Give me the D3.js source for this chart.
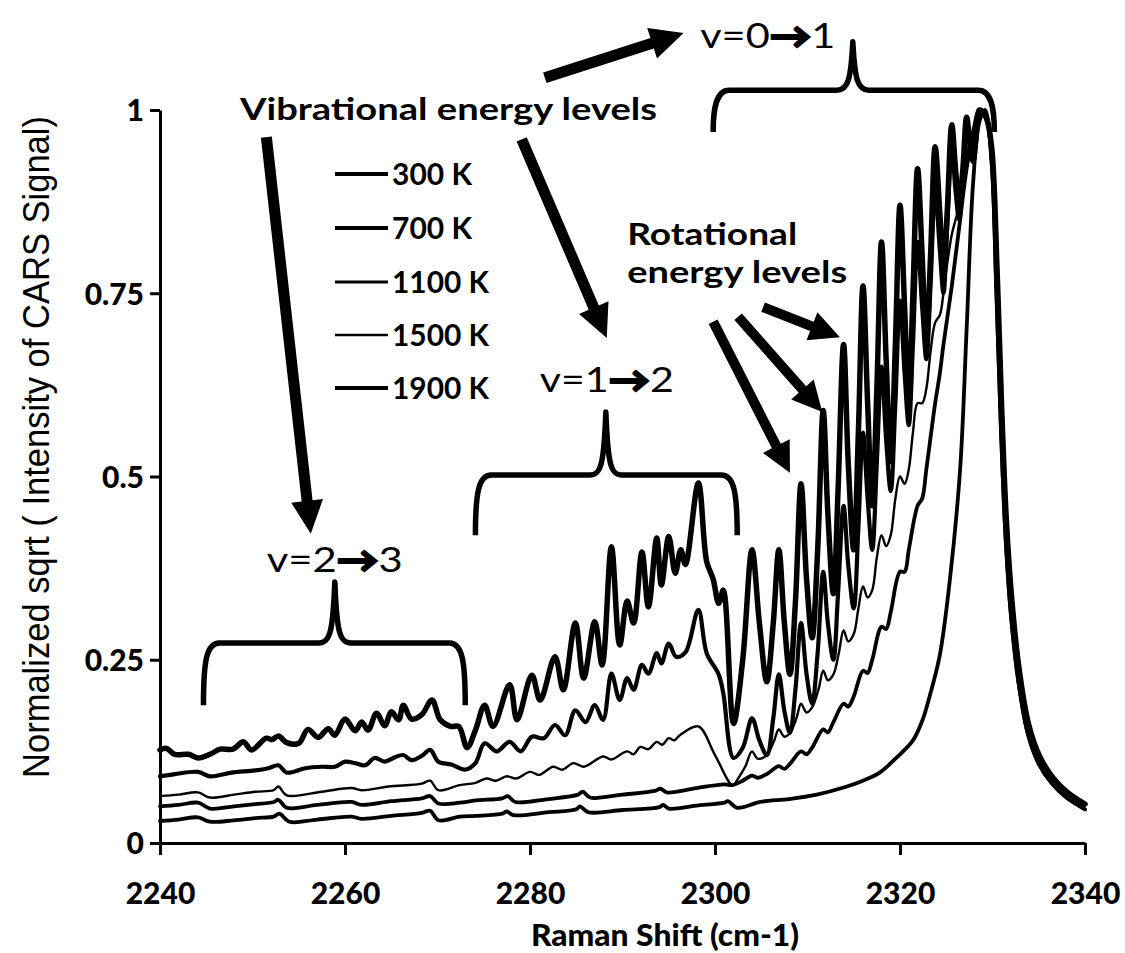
<!DOCTYPE html>
<html>
<head>
<meta charset="utf-8">
<script src="https://cdn.jsdelivr.net/npm/d3@7"></script>
<style>
html,body{margin:0;padding:0;background:#fff;}
svg{display:block;}
</style>
</head>
<body>
<svg id="chart" width="1125" height="953"></svg>
<script>
// ---------------- DATA ----------------
const seriesNames = ["300 K", "700 K", "1100 K", "1500 K", "1900 K"];
const xTicks = [2240, 2260, 2280, 2300, 2320, 2340];
const yTicks = [0, 0.25, 0.5, 0.75, 1];
const yTickLabels = ["0", "0.25", "0.5", "0.75", "1"];

const s300 = [
[2240.0,0.030],[2242,0.032],[2244.1,0.035],[2245.4,0.029],[2248,0.031],[2250.3,0.034],[2252.3,0.036],[2252.9,0.040],[2254.0,0.029],
[2257,0.032],[2260.7,0.036],[2261.8,0.033],[2265,0.037],[2268.3,0.041],[2269.2,0.044],[2270.1,0.031],[2272.4,0.036],[2274.1,0.037],
[2277.0,0.040],[2277.5,0.043],[2278.2,0.038],[2282,0.042],[2285.0,0.046],[2285.4,0.050],[2286.3,0.042],[2290,0.045],[2294,0.049],
[2294.4,0.052],[2295,0.047],[2298,0.051],[2301.0,0.055],[2301.4,0.057],[2302.4,0.048],[2304.9,0.056],[2308,0.060],[2311,0.066],
[2314,0.076],[2316,0.085],[2317.8,0.096],[2319.5,0.115],[2321.4,0.14],[2322.5,0.17],[2323.2,0.20],[2324.3,0.256],[2325.4,0.36],
[2326.5,0.51],[2327.2,0.70],[2327.9,0.90],[2328.6,0.985],[2329.2,1.0],
[2329.9,0.93],[2330.4,0.76],[2330.9,0.57],[2331.4,0.42],[2332.0,0.31],[2332.8,0.22],[2333.8,0.15],[2335.0,0.108],[2336.5,0.08],[2338.0,0.062],[2340,0.046]
];

const s700 = [
[2240.0,0.050],[2242,0.052],[2244.1,0.055],[2245.4,0.047],[2248,0.050],[2250.3,0.053],[2252.3,0.056],[2252.8,0.059],[2253.7,0.048],
[2257,0.052],[2260.7,0.056],[2261.8,0.052],[2265,0.057],[2268.3,0.061],[2269.2,0.064],[2270.1,0.054],[2272.4,0.055],[2274.1,0.058],
[2277.0,0.061],[2277.6,0.064],[2278.4,0.056],[2282,0.060],[2285.2,0.066],[2285.7,0.070],[2286.5,0.062],[2290,0.066],[2293.5,0.071],
[2294.1,0.074],[2294.8,0.069],[2298,0.075],[2301.0,0.080],[2301.9,0.079],
[2303.0,0.085],[2304.0,0.092],[2304.6,0.089],[2305.6,0.094],[2306.9,0.105],[2307.5,0.101],[2308.1,0.108],[2309.3,0.125],[2309.9,0.121],
[2310.5,0.13],[2311.7,0.155],[2312.2,0.151],[2312.8,0.165],[2313.9,0.19],[2314.4,0.186],[2315.0,0.20],[2316.0,0.235],[2316.5,0.232],
[2317.0,0.25],[2318.0,0.295],[2318.5,0.292],[2319.0,0.315],[2320.0,0.37],[2320.5,0.37],[2320.95,0.40],[2321.9,0.46],[2322.4,0.47],
[2322.85,0.51],[2323.8,0.60],[2324.3,0.64],[2324.7,0.68],[2325.6,0.76],[2326.0,0.80],[2326.4,0.84],[2327.2,0.92],[2327.9,0.97],
[2328.6,1.0],[2329.3,0.99],
[2329.9,0.93],[2330.4,0.76],[2330.9,0.57],[2331.4,0.42],[2332.0,0.31],[2332.8,0.22],[2333.8,0.15],[2335.0,0.108],[2336.5,0.08],[2338.0,0.062],[2340,0.046]
];

const s1100 = [
[2240.0,0.064],[2242,0.066],[2244.1,0.069],[2245.4,0.062],[2248,0.066],[2250.3,0.070],[2252.3,0.072],[2252.8,0.077],[2253.7,0.065],
[2257.5,0.070],[2260.7,0.075],[2261.8,0.072],[2264.7,0.077],[2268.3,0.081],[2269.2,0.085],[2270.1,0.072],[2272.4,0.079],[2274.1,0.082],
[2275.3,0.088],[2276.3,0.085],[2277.5,0.091],[2278.5,0.088],[2280,0.097],[2281,0.093],[2282.5,0.104],[2283.5,0.100],[2284.7,0.109],
[2285.8,0.104],[2287.9,0.118],[2288.8,0.114],[2290.5,0.125],[2291.2,0.121],[2291.9,0.131],[2292.8,0.128],[2293.7,0.138],[2294.3,0.134],
[2295.0,0.143],[2295.6,0.140],[2296.2,0.147],[2298.2,0.159],[2300,0.12],[2301.9,0.079],
[2302.6,0.09],[2303.3,0.105],[2304.0,0.125],[2304.6,0.115],[2305.6,0.12],[2306.4,0.14],[2306.9,0.155],[2307.5,0.145],[2308.1,0.15],
[2308.8,0.17],[2309.3,0.19],[2309.9,0.178],[2310.5,0.185],[2311.2,0.21],[2311.7,0.235],[2312.2,0.222],[2312.8,0.23],[2313.4,0.26],
[2313.9,0.29],[2314.4,0.275],[2315.0,0.285],[2315.5,0.32],[2316.0,0.35],[2316.5,0.335],[2317.0,0.345],[2317.5,0.39],[2318.0,0.42],
[2318.5,0.405],[2319.0,0.42],[2319.5,0.47],[2320.0,0.50],[2320.5,0.49],[2320.95,0.51],[2321.4,0.56],[2321.9,0.60],[2322.4,0.60],
[2322.85,0.62],[2323.3,0.67],[2323.8,0.71],[2324.3,0.72],[2324.7,0.75],[2325.1,0.79],[2325.6,0.83],[2326.0,0.85],[2326.4,0.87],
[2326.8,0.91],[2327.2,0.94],[2327.9,0.97],[2328.6,1.0],[2329.3,0.99],
[2329.9,0.93],[2330.4,0.76],[2330.9,0.57],[2331.4,0.42],[2332.0,0.31],[2332.8,0.22],[2333.8,0.15],[2335.0,0.108],[2336.5,0.08],[2338.0,0.062],[2340,0.046]
];

const s1500 = [
[2240.0,0.091],[2241.6,0.094],[2244.1,0.097],[2245.4,0.091],[2247.7,0.096],[2250.3,0.099],[2251.7,0.102],[2252.8,0.106],[2253.7,0.096],
[2255.7,0.102],[2257.5,0.104],[2258.9,0.104],[2260.0,0.111],[2261.1,0.109],[2262.2,0.106],[2263.2,0.116],[2264.3,0.111],[2265.4,0.117],
[2266.3,0.120],[2267.2,0.113],[2268.3,0.119],[2269.2,0.127],[2270.1,0.111],[2271.5,0.107],[2273.0,0.100],[2274.1,0.109],
[2275.1,0.136],[2276.4,0.125],[2277.8,0.138],[2279.0,0.125],[2280.2,0.145],[2281.5,0.143],[2282.7,0.161],[2283.8,0.147],[2284.9,0.181],
[2286.0,0.165],[2287.0,0.188],[2287.9,0.168],[2288.8,0.231],[2289.7,0.195],[2290.5,0.225],[2291.2,0.209],[2292.1,0.243],[2292.8,0.231],
[2293.7,0.259],[2294.2,0.245],[2295.0,0.272],[2295.8,0.254],[2296.8,0.26],[2298.2,0.318],[2299.1,0.259],[2300.4,0.23],[2300.9,0.204],
[2302.0,0.116],
[2303.0,0.13],[2304.0,0.17],[2304.8,0.14],[2305.6,0.12],[2306.3,0.17],[2306.9,0.23],[2307.5,0.18],[2308.1,0.15],[2308.7,0.21],
[2309.3,0.30],[2309.9,0.23],[2310.5,0.19],[2311.1,0.26],[2311.7,0.37],[2312.2,0.30],[2312.8,0.25],[2313.3,0.34],[2313.9,0.46],
[2314.4,0.38],[2315.0,0.32],[2315.5,0.43],[2316.0,0.56],[2316.5,0.47],[2317.0,0.40],[2317.5,0.52],[2318.0,0.65],[2318.5,0.55],
[2319.0,0.48],[2319.5,0.60],[2320.0,0.74],[2320.5,0.64],[2320.95,0.57],[2321.4,0.68],[2321.9,0.82],[2322.4,0.73],[2322.85,0.66],
[2323.3,0.76],[2323.8,0.89],[2324.3,0.81],[2324.7,0.75],[2325.1,0.84],[2325.6,0.95],[2326.0,0.89],[2326.4,0.85],[2326.8,0.91],
[2327.2,0.98],[2327.6,0.95],[2327.9,0.93],[2328.2,0.96],[2328.6,1.0],[2329.3,0.99],
[2329.9,0.95],[2330.5,0.78],[2331.0,0.59],[2331.5,0.44],[2332.1,0.33],[2332.9,0.235],[2333.9,0.162],[2335.1,0.118],[2336.6,0.088],[2338.1,0.069],[2340,0.053]
];

const s1900 = [
[2240.0,0.127],[2240.7,0.129],[2241.6,0.121],[2243.1,0.121],[2244.1,0.116],[2245.4,0.121],[2246.5,0.128],[2247.9,0.128],[2249.0,0.138],
[2249.9,0.127],[2251.5,0.143],[2252.1,0.141],[2252.8,0.146],[2253.7,0.137],[2255.0,0.136],[2256.0,0.155],[2257.1,0.144],[2258.2,0.156],
[2258.9,0.147],[2260.0,0.169],[2261.1,0.153],[2261.8,0.165],[2262.5,0.154],[2263.4,0.177],[2264.3,0.160],[2265.0,0.179],[2265.8,0.168],
[2266.3,0.188],[2267.2,0.169],[2268.3,0.175],[2269.4,0.195],[2270.3,0.168],[2271.4,0.159],[2272.3,0.159],[2273.2,0.130],[2274.1,0.154],
[2275.1,0.188],[2276.0,0.159],[2277.8,0.216],[2278.6,0.168],[2280.2,0.229],[2281.1,0.195],[2282.7,0.254],[2283.6,0.209],[2284.9,0.300],
[2285.8,0.225],[2287.0,0.302],[2287.8,0.243],[2288.8,0.404],[2289.7,0.27],[2290.5,0.33],[2291.2,0.30],[2292.1,0.397],[2292.8,0.322],
[2293.7,0.416],[2294.2,0.352],[2295.0,0.418],[2295.7,0.368],[2296.3,0.40],[2296.8,0.38],[2298.2,0.491],[2299.1,0.384],[2299.8,0.36],
[2300.4,0.327],[2300.9,0.345],[2302.0,0.163],
[2303.0,0.25],[2304.0,0.40],[2304.8,0.30],[2305.6,0.22],[2306.3,0.30],[2306.9,0.40],[2307.5,0.30],[2308.1,0.23],[2308.7,0.33],
[2309.3,0.49],[2309.9,0.36],[2310.5,0.28],[2311.1,0.40],[2311.7,0.59],[2312.2,0.45],[2312.8,0.34],[2313.3,0.48],[2313.9,0.68],
[2314.4,0.52],[2315.0,0.40],[2315.5,0.56],[2316.0,0.76],[2316.5,0.60],[2317.0,0.46],[2317.5,0.62],[2318.0,0.82],[2318.5,0.66],
[2319.0,0.52],[2319.5,0.68],[2320.0,0.87],[2320.5,0.73],[2320.95,0.60],[2321.4,0.75],[2321.9,0.92],[2322.4,0.80],[2322.85,0.68],
[2323.3,0.80],[2323.8,0.95],[2324.3,0.86],[2324.7,0.78],[2325.1,0.86],[2325.6,0.98],[2326.0,0.92],[2326.4,0.87],[2326.8,0.92],
[2327.2,0.99],[2327.6,0.95],[2327.9,0.93],[2328.2,0.96],[2328.6,1.0],[2329.3,0.99],
[2329.9,0.95],[2330.5,0.78],[2331.0,0.59],[2331.5,0.44],[2332.1,0.33],[2332.9,0.235],[2333.9,0.162],[2335.1,0.118],[2336.6,0.088],[2338.1,0.069],[2340,0.053]
];

const seriesData = [s300, s700, s1100, s1500, s1900];

// ---------------- ANNOTATIONS (data units) ----------------
const bracketsAnno = [
  {x0: 2299.8, x1: 2330.2, xm: 2314.9, yTop: 1.027, yBot: 0.970, yTip: 1.093},
  {x0: 2274.1, x1: 2302.4, xm: 2288.2, yTop: 0.502, yBot: 0.420, yTip: 0.588},
  {x0: 2244.7, x1: 2273.0, xm: 2258.9, yTop: 0.273, yBot: 0.188, yTip: 0.356}
];
const arrowsAnno = [
  {from: [2281.6, 1.044], to: [2296.6, 1.105], big: true},
  {from: [2251.5, 0.963], to: [2256.3, 0.422], big: true},
  {from: [2279.1, 0.960], to: [2288.3, 0.689], big: true},
  {from: [2299.8, 0.711], to: [2308.1, 0.505], big: false},
  {from: [2302.5, 0.718], to: [2311.6, 0.588], big: false},
  {from: [2305.2, 0.731], to: [2313.5, 0.690], big: false}
];
const transLabels = [
  {pre: "v=0", post: "1", x: 2305.7, y: 1.085, len: 135},
  {pre: "v=1", post: "2", x: 2288.3, y: 0.615, len: 134},
  {pre: "v=2", post: "3", x: 2258.9, y: 0.370, len: 136}
];
const boldLabels = [
  {text: "Vibrational energy levels", x: 2248.65, y: 0.986, len: 417},
  {text: "Rotational", x: 2290.5, y: 0.816, len: 170},
  {text: "energy levels", x: 2290.5, y: 0.764, len: 220}
];

// ---------------- DRAW ----------------
const svg = d3.select("#chart");
const W = 1125, H = 953;
svg.append("rect").attr("width", W).attr("height", H).attr("fill", "#fff");

const x = d3.scaleLinear().domain([2240, 2340]).range([160, 1085]);
const y = d3.scaleLinear().domain([0, 1]).range([843, 110]);

const lineWidths = [3.8, 3.8, 2.4, 4.2, 5.5];
const legendWidths = [4, 4, 2.8, 2.6, 4];
const fontBold = "Lato, 'Open Sans', sans-serif";

// curves
const line = d3.line().x(d => x(d[0])).y(d => y(d[1])).curve(d3.curveCatmullRom.alpha(0.5));
svg.append("g").selectAll("path").data(seriesData).join("path")
  .attr("d", d => line(d))
  .attr("fill", "none")
  .attr("stroke", "#000")
  .attr("stroke-width", (d, i) => lineWidths[i])
  .attr("stroke-linejoin", "round")
  .attr("stroke-linecap", "round");

// axes
const xAxis = svg.append("g").attr("transform", "translate(0,843)")
  .call(d3.axisBottom(x).tickValues(xTicks).tickSize(12).tickSizeOuter(0).tickFormat(d3.format("d")));
const yAxis = svg.append("g").attr("transform", "translate(160,0)")
  .call(d3.axisLeft(y).tickValues(yTicks).tickSize(10).tickSizeOuter(0).tickFormat((d, i) => yTickLabels[i]));
[xAxis, yAxis].forEach(g => {
  g.select(".domain").attr("stroke", "#000").attr("stroke-width", 3);
  g.selectAll(".tick line").attr("stroke", "#000").attr("stroke-width", 3);
  g.selectAll(".tick text").attr("fill", "#000")
    .style("font-family", fontBold).style("font-weight", "900").style("font-size", "30px");
});
xAxis.selectAll(".tick text").attr("y", 40).attr("dy", "0.71em");
yAxis.selectAll(".tick text").attr("x", -16).attr("dy", "0.36em");

// axis titles
svg.append("text").attr("x", 665).attr("y", 946).attr("text-anchor", "middle")
  .style("font-family", fontBold).style("font-weight", "900").style("font-size", "30px")
  .attr("textLength", 268).attr("lengthAdjust", "spacingAndGlyphs")
  .text("Raman Shift (cm-1)");
svg.append("text").attr("transform", "translate(49,447) rotate(-90)").attr("text-anchor", "middle")
  .style("font-family", "'Liberation Sans Narrow', 'Liberation Sans', Arial, sans-serif").style("font-size", "36px")
  .attr("textLength", 662).attr("lengthAdjust", "spacingAndGlyphs")
  .text("Normalized sqrt ( Intensity of CARS Signal)");

// legend
const legendRows = [174, 228, 282, 335, 388];
const lg = svg.append("g");
seriesNames.forEach((name, i) => {
  lg.append("line").attr("x1", 335).attr("x2", 388).attr("y1", legendRows[i]).attr("y2", legendRows[i])
    .attr("stroke", "#000").attr("stroke-width", legendWidths[i]);
  lg.append("text").attr("x", 392).attr("y", legendRows[i] + 11)
    .style("font-family", fontBold).style("font-weight", "bold").style("font-size", "30px")
    .attr("textLength", name.length > 5 ? 97 : 80).attr("lengthAdjust", "spacingAndGlyphs")
    .text(name);
});

// brackets
const ag = svg.append("g");
bracketsAnno.forEach(b => {
  const X0 = x(b.x0), X1 = x(b.x1), XM = x(b.xm), YT = y(b.yTop), YB = y(b.yBot), YP = y(b.yTip);
  const p = d3.path();
  p.moveTo(X0, YB);
  p.bezierCurveTo(X0, YT + 18, X0 + 3, YT, X0 + 16, YT);
  p.lineTo(XM - 16, YT);
  p.bezierCurveTo(XM - 5, YT, XM - 2, YT - 10, XM, YP);
  p.bezierCurveTo(XM + 2, YT - 10, XM + 5, YT, XM + 16, YT);
  p.lineTo(X1 - 16, YT);
  p.bezierCurveTo(X1 - 3, YT, X1, YT + 18, X1, YB);
  ag.append("path").attr("d", p.toString()).attr("fill", "none").attr("stroke", "#000")
    .attr("stroke-width", 5.5).attr("stroke-linejoin", "round");
});

// arrows
arrowsAnno.forEach(a => {
  const x0 = x(a.from[0]), y0 = y(a.from[1]), x1 = x(a.to[0]), y1 = y(a.to[1]);
  const dx = x1 - x0, dy = y1 - y0, len = Math.hypot(dx, dy);
  const ux = dx / len, uy = dy / len, nx = -uy, ny = ux;
  const w = a.big ? 5.5 : 5, L = a.big ? 33 : 30, Hh = a.big ? 16 : 15;
  const bx = x1 - ux * L, by = y1 - uy * L;
  const pts = [
    [x0 + nx * w, y0 + ny * w], [bx + nx * w, by + ny * w], [bx + nx * Hh, by + ny * Hh],
    [x1, y1],
    [bx - nx * Hh, by - ny * Hh], [bx - nx * w, by - ny * w], [x0 - nx * w, y0 - ny * w]
  ];
  ag.append("polygon").attr("points", pts.map(p => p.join(",")).join(" ")).attr("fill", "#000");
});

// transition labels (v=a→b) with a heavy arrow glyph
transLabels.forEach(l => {
  const t = ag.append("text").attr("x", x(l.x)).attr("y", y(l.y)).attr("text-anchor", "middle")
    .style("font-family", "Lato, 'DejaVu Sans', sans-serif").style("font-size", "34px")
    .attr("textLength", l.len).attr("lengthAdjust", "spacingAndGlyphs");
  t.append("tspan").text(l.pre);
  t.append("tspan").text("\u2192").style("font-weight", "bold").attr("stroke", "#000").attr("stroke-width", 2.2);
  t.append("tspan").text(l.post);
});

boldLabels.forEach(l => {
  ag.append("text").attr("x", x(l.x)).attr("y", y(l.y)).attr("text-anchor", "start")
    .style("font-family", fontBold).style("font-weight", "bold").style("font-size", "30px")
    .attr("textLength", l.len).attr("lengthAdjust", "spacingAndGlyphs")
    .text(l.text);
});
</script>
</body>
</html>
